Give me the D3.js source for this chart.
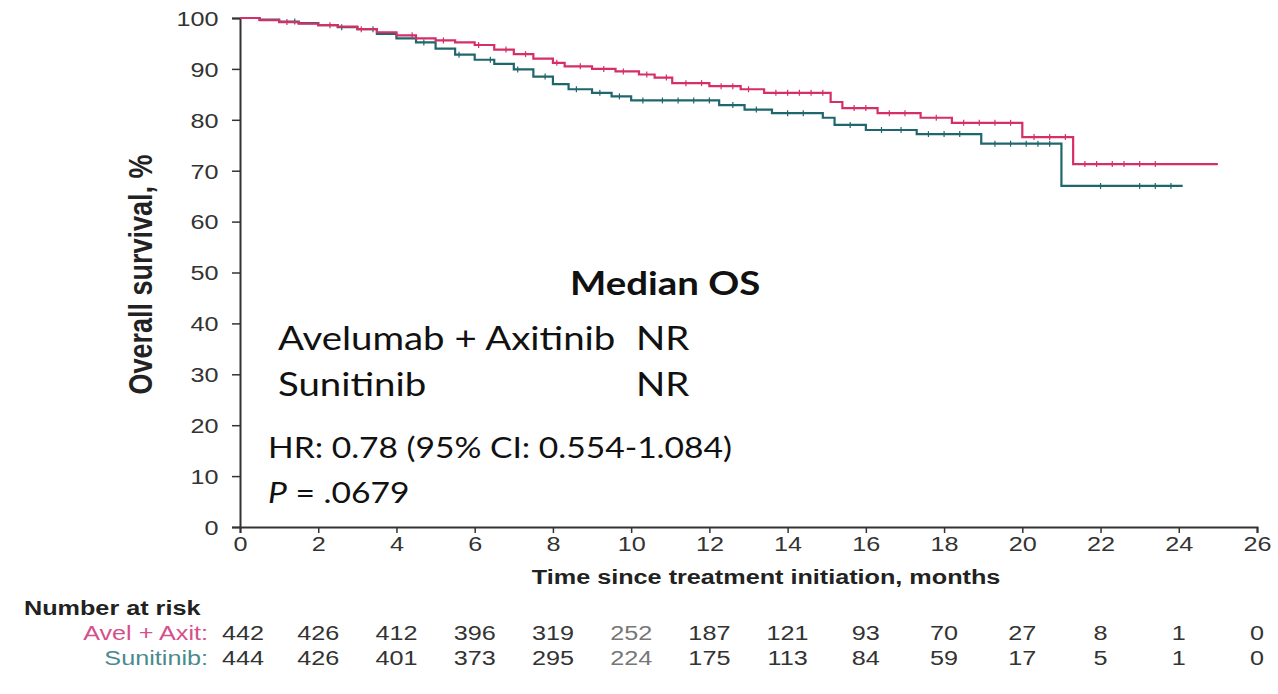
<!DOCTYPE html>
<html>
<head>
<meta charset="utf-8">
<script src="https://cdn.jsdelivr.net/npm/d3@7"></script>
<style>
  body { margin: 0; background: #fff; }
  svg { display: block; }
</style>
</head>
<body>
<script>
// step points of the Kaplan-Meier curves (months, % alive)
var avelTime = [0, 0.5, 1.0, 1.5, 2.0, 2.5, 3.0, 3.5, 4.0, 4.5, 5.0, 5.5, 6.0, 6.5, 7.0, 7.5, 8.0, 8.3, 9.0, 9.6, 10.2, 10.6, 11.05, 12.0, 12.8, 13.4, 15.1, 15.4, 16.3, 17.4, 18.2, 20.0, 21.3, 25.0];
var avelSurv = [100, 99.6, 99.2, 98.9, 98.6, 98.3, 97.8, 97.2, 96.6, 96.0, 95.6, 95.2, 94.7, 93.8, 92.9, 92.0, 91.2, 90.5, 90.0, 89.5, 88.9, 88.3, 87.2, 86.6, 86.0, 85.3, 83.5, 82.3, 81.3, 80.4, 79.4, 76.6, 71.3, 71.3];
var suniTime = [0, 0.5, 1.0, 1.5, 2.0, 2.5, 3.0, 3.5, 4.0, 4.5, 5.0, 5.5, 6.0, 6.5, 7.0, 7.5, 8.0, 8.4, 9.0, 9.5, 10.0, 12.25, 12.9, 13.6, 14.9, 15.2, 16.0, 17.3, 18.95, 21.0, 24.1];
var suniSurv = [100, 99.7, 99.3, 99.0, 98.6, 98.2, 97.8, 96.9, 96.0, 95.2, 94.0, 92.8, 91.8, 91.0, 89.9, 88.5, 87.0, 86.0, 85.3, 84.6, 83.8, 82.9, 82.0, 81.3, 80.4, 79.0, 78.0, 77.2, 75.3, 67.0, 67.0];

// censoring marks (months)
var avelCensor = [1.2, 2.3, 3.1, 4.4, 5.2, 6.1, 6.8, 7.3, 8.1, 8.7, 9.3, 9.8, 10.4, 10.9, 11.4, 11.8, 12.3, 12.6, 13.0, 13.7, 14.0, 14.3, 14.6, 14.9, 15.7, 16.0, 16.6, 17.0, 17.8, 18.5, 18.9, 19.3, 19.7, 20.3, 20.7, 21.1, 21.6, 21.9, 22.3, 22.6, 23.0, 23.4];
var suniCensor = [1.4, 2.6, 3.4, 4.7, 5.6, 6.4, 7.1, 7.8, 8.6, 9.2, 9.7, 10.3, 10.8, 11.2, 11.6, 12.0, 12.6, 13.2, 14.0, 14.4, 15.6, 16.4, 16.9, 17.6, 18.0, 18.4, 19.3, 19.7, 20.1, 20.4, 20.7, 22.0, 23.0, 23.4, 23.8];

// number at risk table
var riskMonths = [0, 2, 4, 6, 8, 10, 12, 14, 16, 18, 20, 22, 24, 26];
var avelRisk = [442, 426, 412, 396, 319, 252, 187, 121, 93, 70, 27, 8, 1, 0];
var suniRisk = [444, 426, 401, 373, 295, 224, 175, 113, 84, 59, 17, 5, 1, 0];

var xTicks = d3.range(0, 27, 2);
var yTicks = d3.range(0, 101, 10);

var pink = "#d62e66", teal = "#1f676d";
var stretch = 1.2;   // the original graphic is a bit wider than tall
var sans = "Liberation Sans, Arial, sans-serif";

var width = 1278, height = 694;
var margin = {top: 18, left: 240, right: 21, bottom: 167};

var svg = d3.select("body").append("svg")
    .attr("width", width)
    .attr("height", height);

var x = d3.scaleLinear().domain([0, 26]).range([margin.left, width - margin.right]);
var y = d3.scaleLinear().domain([0, 100]).range([height - margin.bottom, margin.top]);

// place a text at (px, py) with the horizontal stretch
function label(g, px, py, txt) {
    return g.append("text")
        .attr("transform", "translate(" + px + "," + py + ") scale(" + stretch + ",1)")
        .text(txt);
}

// axes
var yAxis = svg.append("g")
    .attr("transform", "translate(" + margin.left + ",0)")
    .call(d3.axisLeft(y).tickValues(yTicks).tickSize(8).tickPadding(5));
var xAxis = svg.append("g")
    .attr("transform", "translate(0," + y(0) + ")")
    .call(d3.axisBottom(x).tickValues(xTicks).tickSize(6).tickPadding(3));

[xAxis, yAxis].forEach(function(g) {
    g.select(".domain").attr("stroke", "#333").attr("stroke-width", 2);
    g.selectAll(".tick line").attr("stroke", "#333").attr("stroke-width", 1.5);
    g.selectAll(".tick text")
        .attr("fill", "#333")
        .style("font-family", sans)
        .style("font-size", "21px");
});
xAxis.selectAll(".tick text")
    .attr("transform", "scale(" + stretch + ",1)");
yAxis.selectAll(".tick text")
    .attr("dy", "0.35em")
    .attr("transform", "scale(" + stretch + ",1) translate(-5,0)");

// axis titles
svg.append("text")
    .attr("transform", "translate(152," + (y(50) + 2) + ") scale(" + stretch + ",1) rotate(-90)")
    .attr("text-anchor", "middle")
    .style("font-family", sans)
    .style("font-size", "27px")
    .style("font-weight", "bold")
    .attr("fill", "#222")
    .text("Overall survival, %");

label(svg, x(13.45), 584, "Time since treatment initiation, months")
    .attr("text-anchor", "middle")
    .style("font-family", sans)
    .style("font-size", "21px")
    .style("font-weight", "bold")
    .attr("fill", "#222");

// curves
var step = d3.line()
    .x(function(d) { return x(d[0]); })
    .y(function(d) { return y(d[1]); })
    .curve(d3.curveStepAfter);

function survAt(times, surv, t) {
    var i = d3.bisectRight(times, t) - 1;
    return surv[Math.max(0, i)];
}

function drawArm(times, surv, censor, color) {
    var pts = times.map(function(t, i) { return [t, surv[i]]; });
    svg.append("path")
        .datum(pts)
        .attr("fill", "none")
        .attr("stroke", color)
        .attr("stroke-width", 2.2)
        .attr("d", step);
    svg.append("g").selectAll("line")
        .data(censor)
        .enter().append("line")
        .attr("x1", function(d) { return x(d); })
        .attr("x2", function(d) { return x(d); })
        .attr("y1", function(d) { return y(survAt(times, surv, d)) - 3; })
        .attr("y2", function(d) { return y(survAt(times, surv, d)) + 3; })
        .attr("stroke", color)
        .attr("stroke-width", 1.2);
}

drawArm(suniTime, suniSurv, suniCensor, teal);
drawArm(avelTime, avelSurv, avelCensor, pink);

// median OS annotation
var note = svg.append("g")
    .style("font-family", "Lato, 'Open Sans', sans-serif")
    .attr("fill", "#111");
label(note, 570, 295, "Median OS").style("font-size", "32px").style("font-weight", "bold");
label(note, 278, 350, "Avelumab + Axitinib").style("font-size", "32px");
label(note, 636, 350, "NR").style("font-size", "32px");
label(note, 278, 396, "Sunitinib").style("font-size", "32px");
label(note, 636, 396, "NR").style("font-size", "32px");
label(note, 268, 458, "HR: 0.78 (95% CI: 0.554-1.084)").style("font-size", "28px");
var p = label(note, 268, 503, "").style("font-size", "28px");
p.append("tspan").style("font-style", "italic").text("P");
p.append("tspan").text(" = .0679");

// number at risk
var risk = svg.append("g")
    .style("font-family", sans)
    .style("font-size", "21px");
label(risk, 24, 615, "Number at risk").style("font-weight", "bold").attr("fill", "#222");
label(risk, 208, 640, "Avel + Axit:").attr("text-anchor", "end").attr("fill", "#d5508a");
label(risk, 208, 665, "Sunitinib:").attr("text-anchor", "end").attr("fill", "#4a8a8f");

[[avelRisk, 640], [suniRisk, 665]].forEach(function(row) {
    risk.append("g").selectAll("text")
        .data(row[0])
        .enter().append("text")
        .attr("transform", function(d, i) {
            var px = x(riskMonths[i]) + (i === 0 ? 3 : 0);
            return "translate(" + px + "," + row[1] + ") scale(" + stretch + ",1)";
        })
        .attr("text-anchor", "middle")
        .attr("fill", function(d, i) { return riskMonths[i] === 10 ? "#777" : "#333"; })
        .text(function(d) { return d; });
});
</script>
</body>
</html>
